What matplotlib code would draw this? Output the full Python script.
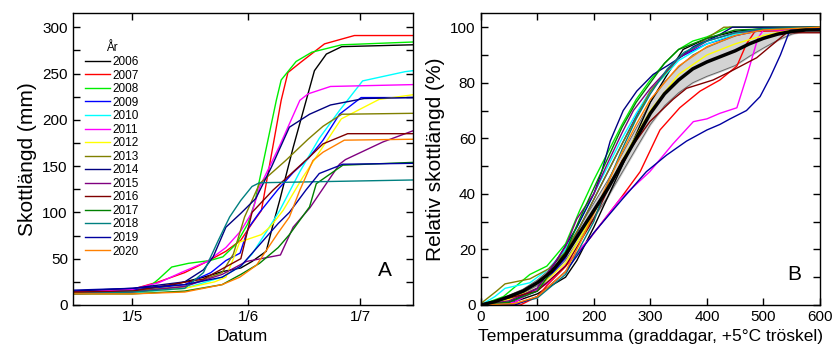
import matplotlib
matplotlib.use('Agg')
import matplotlib.pyplot as plt
import numpy as np
from matplotlib.ticker import MultipleLocator

plt.rcParams['font.family'] = ['Liberation Sans', 'DejaVu Sans']

years = ['2006', '2007', '2008', '2009', '2010', '2011', '2012', '2013',
         '2014', '2015', '2016', '2017', '2018', '2019', '2020']
colors = ['#000000', '#ff0000', '#00ee00', '#0000ff', '#00ffff', '#ff00ff', '#ffff00', '#808000',
          '#000080', '#800080', '#800000', '#008000', '#008080', '#0000a0', '#ff8000']

# --- panel A: shoot length (mm) against day of year ---
d2006 = [105, 121, 130, 140, 145, 150, 153, 156.8, 158.5, 160.4, 164, 167.5, 169.7, 172.9, 177, 196]
v2006 = [14, 16, 20, 30, 36, 40, 47, 58, 85, 113, 170, 221, 253, 271, 279, 281]
d2007 = [105, 121, 128, 135, 141, 146, 150, 153, 155.5, 160.8, 162.6, 166, 172.4, 180.4, 196]
v2007 = [14, 17, 25, 35, 47, 58, 70, 88, 102, 221, 251, 262, 282, 291, 291]
d2008 = [105, 121, 125, 128, 131.5, 136, 141.7, 145.2, 148.8, 151.9, 153.7, 159.5, 160.8, 164.8, 169, 177, 196]
v2008 = [13, 14, 18, 28, 41, 45, 48, 52, 66, 88, 110, 221, 243, 263, 273, 281, 284]
d2009 = [105, 121, 135, 142, 146, 149.8, 152, 155, 160, 164, 168, 172, 176.4, 182.2, 196]
v2009 = [14, 16, 22, 35, 48, 56, 83, 100, 125, 143, 158, 178, 206, 224, 224]
d2010 = [105, 121, 135, 145, 150, 153, 157, 160.4, 165.8, 171, 176.4, 182.6, 194, 196]
v2010 = [12, 13, 18, 30, 42, 55, 80, 102, 144, 180, 210, 242, 252, 253]
d2011 = [105, 121, 128, 134, 141, 146, 150, 153, 155, 160.4, 165.8, 168, 174, 196]
v2011 = [14, 17, 24, 35, 47, 62, 80, 100, 127, 172, 221, 228, 236, 238]
d2012 = [105, 121, 135, 143, 146, 148, 149.7, 155.5, 158, 161.3, 166.6, 176.9, 187, 196]
v2012 = [13, 14, 18, 25, 30, 50, 68, 76, 85, 102, 138, 201, 222, 227]
d2013 = [105, 121, 135, 145, 148, 151, 155, 162, 168, 172, 177, 196]
v2013 = [13, 15, 20, 35, 55, 95, 131, 156, 179, 193, 206, 207]
d2014 = [105, 121, 135, 140, 142.6, 146, 150, 154, 158.2, 163, 168.4, 174, 183, 196]
v2014 = [15, 18, 25, 38, 52, 84, 99, 115, 149, 192, 206, 216, 223, 224]
d2015 = [105, 121, 135, 145, 151.5, 160.6, 164, 168.5, 176.4, 178, 188, 196]
v2015 = [12, 14, 20, 33, 47, 54, 84, 105, 152, 157, 176, 188]
d2016 = [105, 121, 140, 150, 153, 158.6, 163, 168.4, 172, 178.6, 196]
v2016 = [14, 15, 28, 50, 100, 124, 140, 160, 174, 185, 185]
d2017 = [105, 121, 135, 145, 150, 155, 160, 163, 168.4, 170.2, 177.3, 196]
v2017 = [12, 12, 15, 22, 33, 45, 62, 76, 106, 131, 151, 154]
d2018 = [105, 121, 135, 140, 144, 147, 150, 153, 155, 196]
v2018 = [12, 14, 18, 35, 70, 95, 113, 128, 132, 135]
d2019 = [105, 121, 135, 145, 150, 155, 160, 163, 167.4, 171, 177.3, 196]
v2019 = [16, 18, 22, 30, 42, 65, 88, 100, 124, 142, 152, 153]
d2020 = [105, 121, 135, 145, 149.7, 154.2, 157, 160, 163, 165.8, 169.3, 172, 177.7, 196]
v2020 = [12, 12, 14, 22, 30, 43, 60, 78, 95, 124, 156, 165, 178, 179]

date_ticks = [121, 152, 182]
date_labels = ['1/5', '1/6', '1/7']

# --- panel B: relative shoot length (%) against temperature sum ---
t2006 = [0, 50, 100, 150, 170, 200, 250, 300, 330, 358, 400, 450, 500, 600]
r2006 = [0, 0.5, 4, 10, 16, 28, 50, 73, 83, 92, 96, 98.5, 99.5, 100]
t2007 = [0, 70, 100, 117, 146, 193, 246, 282, 317, 352, 388, 423, 453, 470, 485, 600]
r2007 = [0, 0, 3, 7, 13, 24, 38, 48, 63, 71, 77, 81, 86, 94, 98.5, 99]
t2008 = [0, 40, 87, 117, 150, 175, 200, 225, 250, 275, 300, 325, 350, 375, 400, 440, 600]
r2008 = [0, 3, 11, 14, 22, 34, 45, 55, 65, 74, 81, 87, 92, 95, 96.5, 100, 100]
t2009 = [0, 50, 100, 150, 175, 200, 225, 250, 280, 300, 350, 400, 450, 500, 600]
r2009 = [0, 1, 5, 17, 28, 38, 48, 58, 70, 77, 89, 94, 97, 99, 99.5]
t2010 = [0, 25, 43, 87, 120, 150, 175, 200, 225, 250, 275, 300, 350, 400, 450, 500, 600]
r2010 = [0, 3, 6, 8, 13, 20, 30, 40, 50, 60, 69, 77, 88, 94, 97.5, 99, 100]
t2011 = [0, 60, 117, 146, 193, 246, 299, 340, 376, 400, 423, 453, 470, 490, 500, 600]
r2011 = [0, 1, 7.6, 13.5, 24, 38, 48, 58, 66, 67, 69, 71, 82, 96, 99, 99]
t2012 = [0, 50, 100, 150, 175, 200, 225, 250, 275, 300, 350, 400, 450, 500, 550, 600]
r2012 = [0, 2, 6, 15, 24, 33, 42, 52, 61, 70, 83, 90, 94, 97, 99, 99]
t2013 = [0, 28, 43, 87, 120, 150, 175, 200, 225, 250, 300, 350, 400, 430, 600]
r2013 = [0.5, 5, 7.6, 9.4, 13, 19, 28, 38, 48, 58, 77, 89, 96, 100, 100]
t2014 = [0, 50, 100, 134, 170, 200, 214, 229, 252, 276, 305, 329, 352, 376, 420, 445, 600]
r2014 = [0, 1, 6, 16, 28, 40, 48, 59, 70, 77, 83, 86, 89, 93, 97, 100, 100]
t2015 = [0, 50, 100, 150, 170, 200, 222, 250, 270, 300, 350, 400, 450, 500, 600]
r2015 = [0, 1.5, 6, 21, 31, 40, 50, 62, 70, 78, 89, 95, 98, 99, 100]
t2016 = [0, 100, 150, 200, 250, 299, 340, 364, 411, 441, 488, 541, 600]
r2016 = [0, 5, 14, 31, 52, 66, 74, 78, 81, 84, 89, 98, 98]
t2017 = [0, 50, 100, 150, 175, 200, 225, 250, 275, 300, 325, 350, 375, 400, 450, 600]
r2017 = [0, 1, 5, 19, 31, 42, 53, 64, 73, 80, 87, 92, 94, 96, 99, 100]
t2018 = [0, 60, 100, 150, 200, 225, 250, 275, 300, 330, 360, 400, 450, 500, 600]
r2018 = [0, 0.5, 2.5, 11, 30, 44, 56, 67, 76, 85, 91, 95, 98, 99.5, 100]
t2019 = [0, 60, 100, 150, 200, 250, 293, 329, 364, 400, 423, 441, 470, 494, 512, 530, 547, 600]
r2019 = [0, 0, 3, 12, 26, 38, 48, 54, 59, 63, 65, 67, 70, 75, 82, 90, 99, 99]
t2020 = [0, 60, 100, 150, 175, 200, 225, 250, 275, 300, 350, 400, 450, 500, 600]
r2020 = [0, 0.5, 3, 12, 22, 33, 44, 55, 65, 74, 86, 93, 97, 99, 100]

# mean curve and its band
t_mean = [0, 25, 50, 75, 100, 125, 150, 175, 200, 225, 250, 275, 300, 325, 350, 375,
          400, 425, 450, 475, 500, 525, 550, 575, 600]
r_mean = [0, 1.2, 3, 5, 8, 12, 18, 26, 34, 42, 51, 60, 69, 76, 81, 85,
          87.5, 89.5, 91.5, 94, 96, 97.5, 98.5, 99, 99]
r_upper = [0, 1.5, 3.5, 5.7, 9, 13.3, 19.8, 28.2, 36.6, 45, 54.3, 63.6, 73, 80.3, 85.6, 90,
           92.7, 94.8, 96.8, 98.2, 99.2, 99.5, 99.5, 99.3, 99]
r_lower = [0, 0.9, 2.5, 4.3, 7, 10.7, 16.2, 23.8, 31.4, 39, 47.7, 56.4, 65, 71.7, 76.4, 80,
           82.3, 84.2, 86.2, 89.5, 92.5, 95.3, 97.5, 98.7, 99]

dA = [d2006, d2007, d2008, d2009, d2010, d2011, d2012, d2013, d2014, d2015, d2016, d2017, d2018, d2019, d2020]
vA = [v2006, v2007, v2008, v2009, v2010, v2011, v2012, v2013, v2014, v2015, v2016, v2017, v2018, v2019, v2020]
tB = [t2006, t2007, t2008, t2009, t2010, t2011, t2012, t2013, t2014, t2015, t2016, t2017, t2018, t2019, t2020]
rB = [r2006, r2007, r2008, r2009, r2010, r2011, r2012, r2013, r2014, r2015, r2016, r2017, r2018, r2019, r2020]

fig = plt.figure(figsize=(8.34, 3.56), dpi=100)
ax1 = fig.add_axes([0.0872, 0.1433, 0.4076, 0.8193])
ax2 = fig.add_axes([0.5764, 0.1433, 0.4068, 0.8193])

for d, v, c, y in zip(dA, vA, colors, years):
    ax1.plot(d, v, color=c, lw=1.0, label=y)

ax1.set_xlim(105, 196)
ax1.set_ylim(0, 315)
ax1.set_xticks(date_ticks)
ax1.set_xticklabels(date_labels)
ax1.yaxis.set_major_locator(MultipleLocator(50))
ax1.yaxis.set_minor_locator(MultipleLocator(25))
ax1.set_xlabel('Datum', fontsize=12.5)
ax1.set_ylabel('Skottlängd (mm)', fontsize=15)
ax1.text(188.5, 37, 'A', fontsize=15, ha='center', va='center')
ax1.legend(loc='upper left', bbox_to_anchor=(0.036, 0.9), frameon=False, fontsize=8.5,
           title='År', title_fontsize=8.5, handlelength=2.1, handletextpad=0.2,
           labelspacing=0.13, borderpad=0, borderaxespad=0)

ax2.fill_between(t_mean, r_lower, r_upper, color='#d3d3d3', zorder=1)
ax2.plot(t_mean, r_upper, color='#666666', lw=0.7, zorder=1.5)
ax2.plot(t_mean, r_lower, color='#666666', lw=0.7, zorder=1.5)
for t, r, c in zip(tB, rB, colors):
    ax2.plot(t, r, color=c, lw=1.0, zorder=2)
ax2.plot(t_mean, r_mean, color='black', lw=2.5, zorder=3)

ax2.set_xlim(0, 600)
ax2.set_ylim(0, 105)
ax2.xaxis.set_major_locator(MultipleLocator(100))
ax2.yaxis.set_major_locator(MultipleLocator(20))
ax2.yaxis.set_minor_locator(MultipleLocator(10))
ax2.set_xlabel('Temperatursumma (graddagar, +5°C tröskel)', fontsize=12.5)
ax2.set_ylabel('Relativ skottlängd (%)', fontsize=15)
ax2.text(555, 11, 'B', fontsize=15, ha='center', va='center')

for ax in (ax1, ax2):
    ax.tick_params(which='both', direction='in', top=True, right=True, length=5, width=1, labelsize=11)
    for s in ax.spines.values():
        s.set_linewidth(1)

plt.savefig('out.png', dpi=100)
